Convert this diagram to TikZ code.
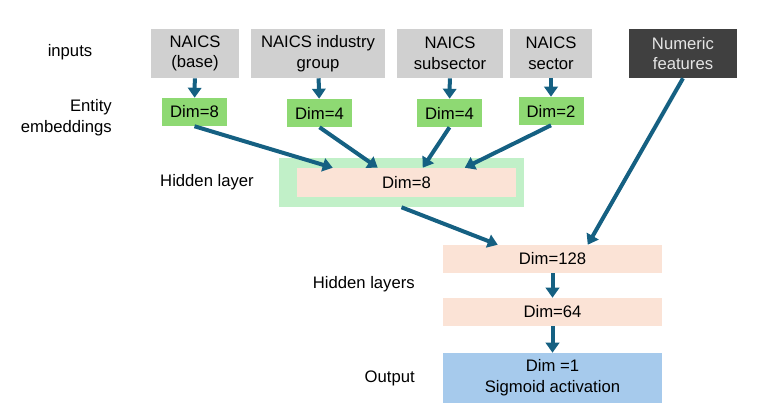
\documentclass[tikz,border=0pt]{standalone}
\usepackage{fontspec}
\setmainfont{Liberation Sans}
\usepackage{tikz}
\usetikzlibrary{arrows.meta,positioning,calc}
\definecolor{inputbg}{RGB}{208,208,208}
\definecolor{numbg}{RGB}{64,64,64}
\definecolor{embbg}{RGB}{142,217,115}
\definecolor{hidwrap}{RGB}{193,240,200}
\definecolor{layerbg}{RGB}{251,227,214}
\definecolor{outbg}{RGB}{166,202,236}
\definecolor{arrowc}{RGB}{21,96,130}

\begin{document}
\begin{tikzpicture}[x=0.75pt, y=-0.75pt, font=\fontsize{12.5}{15.5}\selectfont,
  >={Triangle[length=7.5pt, width=10pt]},
  inp/.style={fill=inputbg, minimum height=36.75pt, inner sep=0pt, align=center},
  emb/.style={fill=embbg, minimum width=48.75pt, minimum height=21pt, inner sep=0pt},
  layer/.style={fill=layerbg, minimum width=164.25pt, minimum height=21pt, inner sep=0pt, align=center},
  lbl/.style={align=center, inner sep=0pt},
  flow/.style={->, draw=arrowc, line width=3pt}]
  \useasboundingbox (0,0) rectangle (766,412);
  % inputs
  \node[inp, minimum width=66pt] (base) at (195,53.5) {NAICS\\(base)};
  \node[inp, minimum width=100.5pt] (group) at (318,53.5) {NAICS industry\\group};
  \node[inp, minimum width=79.5pt] (subsec) at (450,53.5) {NAICS\\subsector};
  \node[inp, minimum width=61.5pt] (sector) at (551,53.5) {NAICS\\sector};
  \node[inp, minimum width=81pt, fill=numbg, text=white!90!black] (num) at (683,53.5) {Numeric\\features};
  % embeddings
  \node[emb] (e1) at (194.5,112) {Dim=8};
  \node[emb] (e2) at (319.5,113) {Dim=4};
  \node[emb] (e3) at (449.5,113) {Dim=4};
  \node[emb] (e4) at (551,111) {Dim=2};
  % hidden
  \node[fill=hidwrap, minimum width=183.75pt, minimum height=36.75pt, inner sep=0pt] (hidbg) at (401.5,182.5) {};
  \node[layer, minimum height=21.75pt] (hid) at (406.5,182.5) {Dim=8};
  \node[layer] (d128) at (552.5,259) {Dim=128};
  \node[layer] (d64) at (552.5,312) {Dim=64};
  \node[layer, fill=outbg, minimum height=37.5pt] (out) at (552.5,378) {Dim =1\\Sigmoid activation};
  % row labels
  \node[lbl] (linp) at (70,52) {inputs};
  \node[lbl, align=right, anchor=east] (lemb) at (112,118) {Entity\\embeddings};
  \node[lbl] (lhid) at (207,182) {Hidden layer};
  \node[lbl, anchor=east] (lhids) at (415,284) {Hidden layers};
  \node[lbl, anchor=east] (lout) at (415,378) {Output};
  % arrow ends on the layers
  \coordinate (h1) at ($(hid.north west)+(36,0)$);
  \coordinate (h2) at ($(hid.north west)+(81,0)$);
  \coordinate (h3) at ($(hid.north west)+(126,0)$);
  \coordinate (h4) at ($(hid.north west)+(168,0)$);
  \coordinate (t1) at ($(d128.north west)+(55,0)$);
  \coordinate (t2) at ($(d128.north west)+(145,0)$);
  \draw[flow] (base) -- (e1);
  \draw[flow] (group) -- (e2);
  \draw[flow] (subsec) -- (e3);
  \draw[flow] (sector) -- (e4);
  \draw[flow] (e1.south) -- (h1);
  \draw[flow] (e2.south) -- (h2);
  \draw[flow] (e3.south) -- (h3);
  \draw[flow] (e4.south) -- (h4);
  \draw[flow] (hidbg.south) -- (t1);
  \draw[flow] (num.south) -- (t2);
  \draw[flow] (d128) -- (d64);
  \draw[flow] (d64) -- (out);
\end{tikzpicture}
\end{document}
